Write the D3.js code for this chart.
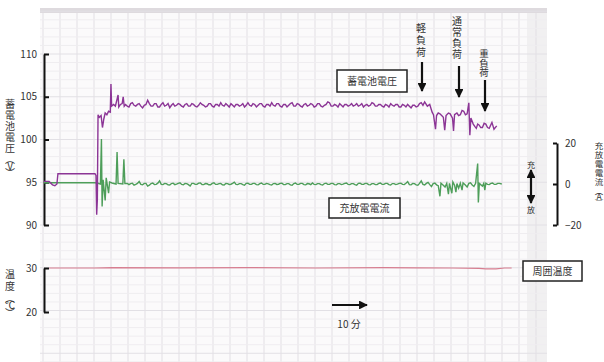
<!DOCTYPE html>
<meta charset="utf-8">
<script src="https://d3js.org/d3.v7.min.js"></script>
<style>
  body { margin: 0; background: #fff; }
  text { font-family: "Noto Sans CJK JP", "DejaVu Sans", sans-serif; }
</style>
<div id="chart"></div>
<script>
// time in minutes, voltage in V, current in A, temperature in degC
const voltage = [
  [0,95.1],[1.5,95.1],[2.5,94.7],[3.2,94.6],[3.8,94.8],[4.1,96.0],[15.0,96.0],[15.3,95.8],
  [15.5,91.2],[15.7,93.0],[15.9,102.9],[16.3,102.6],[16.8,102.8],[17.2,101.4],[17.6,102.4],
  [18.0,103.1],[18.5,102.9],[19.0,103.3],[19.5,103.2],[19.7,106.5],[19.9,103.9],[20.5,104.1],
  [21,103.9],[21.8,105.2],[22,103.8],[22.5,104.1],[23,104.2],[23.3,105.0],[23.6,103.9],[24,104.1],
  [24.5,103.9],[25,103.8],[25.5,104.2],[26,104.3],[26.5,104.0],[27,103.9],[27.5,104.1],[28,104.2],
  [28.5,103.9],[29,103.7],[29.5,104.0],[30,104.1],[30.5,104.6],[31,104.2],[31.5,103.9],[32,103.9],
  [32.5,104.2],[33,104.2],[33.5,103.8],[34,103.8],[34.5,104.1],[35,104.3],[35.5,103.9],[36,104.0],
  [36.5,104.2],[37,103.7],[37.5,104.0],[38,104.2],[38.5,103.9],[39,104.0],[39.5,104.2],[40,104.1],
  [40.5,103.9],[41,103.8],[41.5,104.1],[42,104.2],[42.5,103.9],[43,103.9],[43.5,104.2],[44,104.1],
  [44.5,103.9],[45,103.8],[45.5,104.0],[46,104.3],[46.5,104.1],[47,104.0],[47.5,103.8],[48,103.9],
  [48.5,104.2],[49,104.2],[49.5,103.9],[50,103.8],[50.5,104.1],[51,104.1],[51.5,103.9],[52,104.3],
  [52.5,104.0],[53,103.9],[53.5,104.2],[54,104.0],[54.5,103.8],[55,104.2],[55.5,104.0],[56,103.8],
  [56.5,104.1],[57,104.1],[57.5,103.9],[58,104.0],[58.5,104.2],[59,103.8],[59.5,104.0],[60,104.3],
  [60.5,104.0],[61,103.9],[61.5,104.2],[62,104.1],[62.5,103.8],[63,104.0],[63.5,104.2],[64,104.2],
  [64.5,103.9],[65,103.8],[65.5,104.1],[66,104.1],[66.5,103.9],[67,104.3],[67.5,104.0],[68,103.9],
  [68.5,104.2],[69,104.2],[69.5,103.9],[70,103.8],[70.5,104.1],[71,104.1],[71.5,103.8],[72,104.0],
  [72.5,104.2],[73,104.3],[73.5,103.9],[74,103.9],[74.5,104.2],[75,104.1],[75.5,103.9],[76,103.8],
  [76.5,104.1],[77,104.2],[77.5,103.9],[78,104.0],[78.5,104.2],[79,104.1],[79.5,103.8],[80,103.9],
  [80.5,104.2],[81,104.2],[81.5,103.9],[82,103.8],[82.5,104.0],[83,104.1],[83.5,104.4],[84,104.3],
  [84.5,103.9],[85,103.9],[85.5,104.1],[86,104.0],[86.5,103.8],[87,104.2],[87.5,104.0],[88,103.8],
  [88.5,104.1],[89,104.1],[89.5,103.9],[90,104.0],[90.5,104.2],[91,103.9],[91.5,104.0],[92,104.2],
  [92.5,103.9],[93,104.0],[93.5,104.2],[94,103.8],[94.5,104.0],[95,104.1],[95.5,103.9],[96,104.0],
  [96.5,104.3],[97,104.2],[97.5,103.9],[98,103.9],[98.5,104.1],[99,104.1],[99.5,103.9],[100,103.8],
  [100.5,104.1],[101,104.0],[101.5,103.8],[102,104.2],[102.5,104.0],[103,103.9],[103.5,104.1],
  [104,104.1],[104.5,103.8],[105,103.8],[105.5,104.1],[106,104.0],[106.5,103.8],[107,104.1],
  [107.5,103.9],[108,103.7],[108.5,104.0],[109,104.0],[109.5,103.8],[110,103.9],[110.5,104.2],
  [111,104.3],[111.5,104.0],[112,104.4],[112.8,103.9],[113.5,104.1],[114.2,103.2],[114.6,102.9],
  [115.2,101.2],[115.5,102.8],[116,103.1],[116.5,103.0],[117,102.8],[117.5,102.6],[117.9,101.1],
  [118.3,102.8],[119,103.1],[119.5,103.0],[120.2,102.5],[120.5,101.0],[120.8,102.9],[121.5,103.1],
  [122,102.8],[122.5,102.9],[123,103.4],[123.5,103.3],[124,102.9],[124.5,103.0],[125.0,104.3],
  [125.3,100.5],[125.6,102.5],[126.3,101.8],[126.8,101.5],[127.2,101.3],[127.6,101.8],[128,101.7],
  [128.5,101.4],[129,101.4],[129.5,101.9],[130,101.8],[130.5,101.4],[131,101.3],[131.8,102.0],
  [132.4,101.2],[133.2,101.6]
];

const current = [
  [0,0.6],[15.0,0.6],[15.6,0.5],[16.6,0],[16.9,22],[17.1,-11],[17.4,2],[18.0,-8],[18.3,3],
  [19.0,-4.5],[19.3,1],[20.0,0.5],[21.2,0],[21.5,15.6],[21.8,0.3],[23.2,0],[23.5,12],[23.8,0.2],
  [24.5,0.3],[25,-0.3],[25.5,0.2],[26,0.4],[26.5,-0.6],[27,-0.2],[27.5,0.3],[28,1.2],[28.5,-0.2],
  [29,-0.4],[29.5,0.3],[30,0.3],[30.5,-1.0],[31,-0.6],[31.5,0.2],[32,0.5],[32.5,-0.3],[33,-0.2],
  [33.5,0.4],[34,1.5],[34.5,-0.2],[35,-0.3],[35.5,0.3],[36,0.2],[36.5,-0.4],[37,-0.5],[37.5,0.2],
  [38,0.4],[38.5,-0.3],[39,-0.1],[39.5,0.3],[40,0.6],[40.5,-0.2],[41,-0.4],[41.5,0.3],[42,0.2],
  [42.5,-0.3],[43,-1.0],[43.5,0.3],[44,0.3],[44.5,-0.2],[45,-0.2],[45.5,0.4],[46,0.5],[46.5,-0.3],
  [47,-0.3],[47.5,0.2],[48,0.1],[48.5,-0.4],[49,-0.4],[49.5,0.3],[50,0.6],[50.5,-0.2],[51,-0.2],
  [51.5,0.2],[52,0.3],[52.5,-0.4],[53,-0.5],[53.5,0.3],[54,0.2],[54.5,-0.2],[55,-0.1],[55.5,0.3],
  [56,0.9],[56.5,-0.2],[57,-0.3],[57.5,0.2],[58,0.2],[58.5,-0.3],[59,-0.6],[59.5,0.3],[60,0.4],
  [60.5,-0.2],[61,-0.2],[61.5,0.3],[62,0.3],[62.5,-0.3],[63,-0.4],[63.5,0.2],[64,0.5],[64.5,-0.2],
  [65,-0.2],[65.5,0.3],[66,0.1],[66.5,-0.3],[67,-0.5],[67.5,0.2],[68,0.3],[68.5,-0.2],[69,-0.1],
  [69.5,0.3],[70,0.4],[70.5,-0.3],[71,-0.3],[71.5,0.2],[72,0.2],[72.5,-0.4],[73,-0.6],[73.5,0.2],
  [74,0.5],[74.5,-0.2],[75,-0.2],[75.5,0.3],[76,0.3],[76.5,-0.3],[77,-0.4],[77.5,0.2],[78,0.1],
  [78.5,-0.3],[79,0.5],[79.5,-0.2],[80,-0.3],[80.5,0.2],[81,0.2],[81.5,-0.3],[82,-0.5],[82.5,0.2],
  [83,0.4],[83.5,-0.2],[84,-0.2],[84.5,0.3],[85,0.3],[85.5,-0.3],[86,-0.4],[86.5,0.2],[87,0.2],
  [87.5,-0.3],[88,-0.1],[88.5,0.3],[89,0.5],[89.5,-0.2],[90,-0.3],[90.5,0.2],[91,0.2],[91.5,-0.3],
  [92,-0.6],[92.5,0.3],[93,0.4],[93.5,-0.2],[94,-0.2],[94.5,0.3],[95,0.3],[95.5,-0.3],[96,-0.4],
  [96.5,0.2],[97,0.2],[97.5,-0.3],[98,-0.3],[98.5,0.3],[99,0.5],[99.5,-0.2],[100,-0.2],[100.5,0.3],
  [101,0.3],[101.5,-0.3],[102,-0.5],[102.5,0.2],[103,0.2],[103.5,-0.3],[104,-0.1],[104.5,0.3],
  [105,0.4],[105.5,-0.2],[106,-0.3],[106.5,0.4],[107,1.2],[107.5,-0.3],[108,-0.4],[108.5,0.3],
  [109,0.2],[109.5,-0.4],[110,-0.6],[110.5,0.3],[111,1.5],[111.5,-0.2],[112,-0.5],[112.5,0.3],
  [113,0.8],[113.5,-0.3],[114,-1.2],[114.5,0.2],[115,0.5],[115.5,-0.4],[116,-0.8],[116.5,-6],
  [116.8,0.4],[117.4,-0.5],[118,-1.5],[118.5,0.3],[119,-5],[119.3,0.3],[120,-4.5],[120.3,1.0],
  [120.8,-0.6],[121.2,-4],[121.5,0.2],[122,-2],[122.5,0.4],[123,-3],[123.3,0.5],[123.9,-0.4],
  [124.5,-1.5],[125,0.3],[125.5,0.6],[126,-0.5],[126.5,-1.2],[127,0.3],[127.6,10],[127.8,-9],
  [128.1,0.3],[128.5,-0.3],[129,-1],[129.4,0.3],[129.7,-3],[130,0.4],[130.5,-0.2],[131,-0.3],
  [131.5,0.3],[132,0.5],[132.5,-0.2],[133,-0.2],[133.5,0.3],[134,0.3],[134.7,0]
];

const temperature = [
  [1.5,30],[15,30],[20,30.1],[40,30.05],[60,30.1],[80,30],[100,30.1],[110,30.05],
  [120,30],[128,29.9],[130,29.8],[133,29.8],[135.5,30],[137.6,30]
];

const voltTicks = [90, 95, 100, 105, 110];
const currTicks = [-20, 0, 20];
const tempTicks = [20, 30];

const W = 604, H = 362;
const svg = d3.select("#chart").append("svg")
  .attr("width", W).attr("height", H);

// scales
const x = d3.scaleLinear().domain([0, 148]).range([44, 547]);
const yV = d3.scaleLinear().domain([90, 110]).range([225, 54]);
const yA = d3.scaleLinear().domain([-20, 20]).range([225, 143]);
const yT = d3.scaleLinear().domain([20, 30]).range([312, 268]);

// chart paper
svg.append("rect").attr("x", 40).attr("y", 8).attr("width", 507).attr("height", H - 8)
  .attr("fill", "#fbfafb");
svg.append("rect").attr("x", 40).attr("y", 8).attr("width", 507).attr("height", 5)
  .attr("fill", "#dedade");
svg.append("rect").attr("x", 527).attr("y", 13).attr("width", 20).attr("height", H - 13)
  .attr("fill", "#000").attr("opacity", 0.04);

const grid = svg.append("g");
for (let gx = 43; gx <= 547; gx += 17) {
  grid.append("line").attr("x1", gx).attr("x2", gx).attr("y1", 13).attr("y2", H)
    .attr("stroke", "#e2dfe4").attr("stroke-width", 1);
}
for (let i = -5; i <= 36; i++) {
  const gy = 54 + i * 8.55;
  grid.append("line").attr("x1", 40).attr("x2", 547).attr("y1", gy).attr("y2", gy)
    .attr("stroke", i % 5 === 0 ? "#e2e0e5" : "#efedf0").attr("stroke-width", 1);
}

// axes
const axV = svg.append("g").attr("transform", "translate(44,0)")
  .call(d3.axisLeft(yV).tickValues(voltTicks).tickSizeInner(-5).tickSizeOuter(0).tickPadding(7));
const axT = svg.append("g").attr("transform", "translate(44,0)")
  .call(d3.axisLeft(yT).tickValues(tempTicks).tickSizeInner(-5).tickSizeOuter(0).tickPadding(7));
const axA = svg.append("g").attr("transform", "translate(557,0)")
  .call(d3.axisRight(yA).tickValues(currTicks).tickSizeInner(-4).tickSizeOuter(0).tickPadding(8));
[axV, axT, axA].forEach(g => {
  g.selectAll("path,line").attr("stroke", "#111").attr("stroke-width", 2);
  g.selectAll("text").attr("fill", "#333").attr("font-size", 10)
    .attr("font-family", "DejaVu Sans, sans-serif");
});

// series
const line = (sy) => d3.line().x(d => x(d[0])).y(d => sy(d[1]));
svg.append("path").datum(temperature).attr("fill", "none")
  .attr("stroke", "#d77e90").attr("stroke-width", 1.2).attr("d", line(yT));
svg.append("path").datum(current).attr("fill", "none")
  .attr("stroke", "#4e9e5a").attr("stroke-width", 1.4).attr("d", line(yA));
svg.append("path").datum(voltage).attr("fill", "none")
  .attr("stroke", "#8c3596").attr("stroke-width", 1.4).attr("d", line(yV));

// vertical text: one text element, one glyph per tspan row
function vtext(tx, ty, str, size, step) {
  const t = svg.append("text").attr("text-anchor", "middle")
    .attr("font-size", size).attr("fill", "#333");
  let cy = ty;
  Array.from(str).forEach(ch => {
    const small = "︵︶VA℃".includes(ch);
    t.append("tspan").attr("x", tx).attr("y", cy).attr("dominant-baseline", "central").text(ch);
    cy += small ? step * 0.65 : step;
  });
}
vtext(10, 103, "蓄電池電圧︵V︶", 10, 11);
vtext(10, 273, "温度︵℃︶", 10, 12);
vtext(599, 145, "充放電電流︵A︶", 8.5, 9);
vtext(421, 27, "軽負荷", 10, 12);
vtext(457, 20, "通常負荷", 10, 11.3);
vtext(484, 53, "重負荷", 9.5, 9.5);

// label boxes
function box(bx, by, bw, bh, str) {
  svg.append("rect").attr("x", bx).attr("y", by).attr("width", bw).attr("height", bh)
    .attr("fill", "#fff").attr("stroke", "#222").attr("stroke-width", 1.5);
  svg.append("text").attr("x", bx + bw / 2).attr("y", by + bh / 2 + 4)
    .attr("text-anchor", "middle").attr("font-size", 10).attr("fill", "#333").text(str);
}
box(337, 70, 70, 22, "蓄電池電圧");
box(329, 198, 71, 20, "充放電電流");
box(523, 261, 59, 20, "周囲温度");

// arrows
svg.append("defs").append("marker").attr("id", "ah").attr("viewBox", "0 0 10 10")
  .attr("refX", 9).attr("refY", 5).attr("markerWidth", 4).attr("markerHeight", 4)
  .attr("orient", "auto-start-reverse")
  .append("path").attr("d", "M0,0L10,5L0,10Z").attr("fill", "#111");
function arrow(x1, y1, x2, y2, both) {
  const a = svg.append("line").attr("x1", x1).attr("y1", y1).attr("x2", x2).attr("y2", y2)
    .attr("stroke", "#111").attr("stroke-width", 2.2).attr("marker-end", "url(#ah)");
  if (both) a.attr("marker-start", "url(#ah)");
}
arrow(422, 62, 422, 91);
arrow(459, 66, 459, 97);
arrow(485, 80, 485, 111);
arrow(531, 170, 531, 203, true);
arrow(332, 305, 367, 305);

svg.append("text").attr("x", 531).attr("y", 168).attr("text-anchor", "middle")
  .attr("font-size", 8).attr("fill", "#333").text("充");
svg.append("text").attr("x", 531).attr("y", 213).attr("text-anchor", "middle")
  .attr("font-size", 8).attr("fill", "#333").text("放");
svg.append("text").attr("x", 349).attr("y", 328).attr("text-anchor", "middle")
  .attr("font-size", 10).attr("fill", "#333").text("10 分");
</script>
